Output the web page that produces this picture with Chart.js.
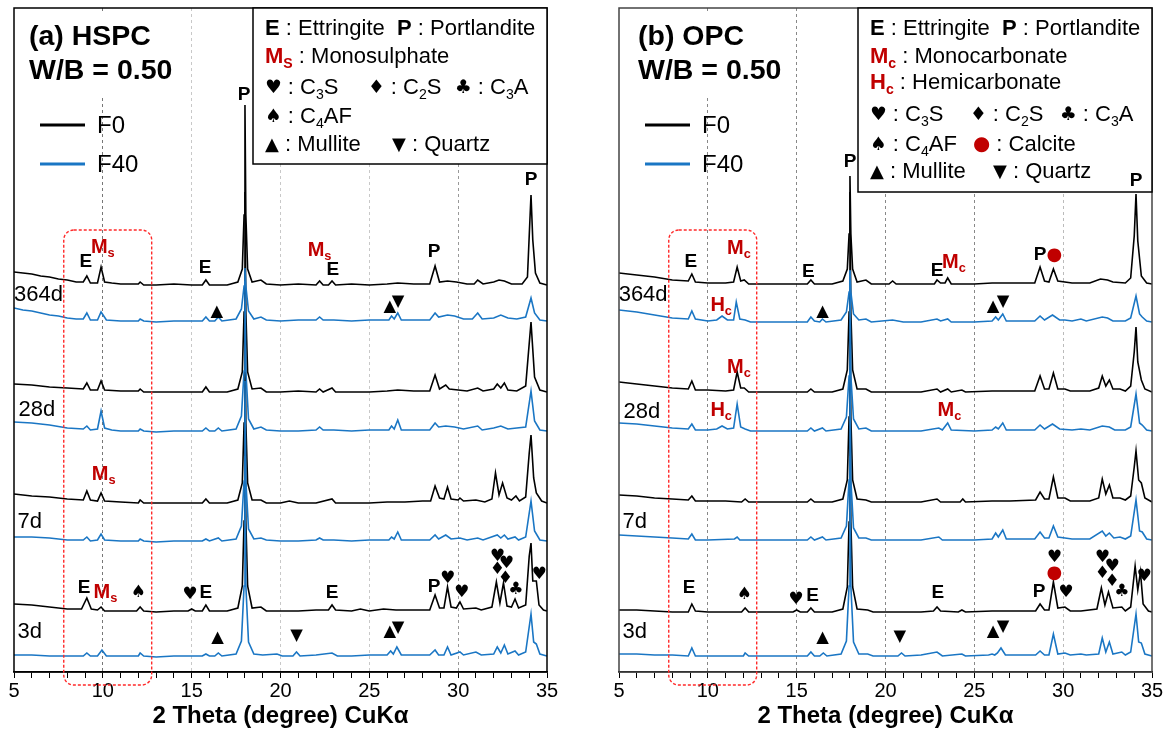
<!DOCTYPE html>
<html>
<head>
<meta charset="utf-8">
<script src="https://cdn.jsdelivr.net/npm/chart.js@4.4.0/dist/chart.umd.min.js"></script>
<style>
  html, body { margin: 0; padding: 0; background: #fff; }
  #wrap { position: relative; width: 1171px; height: 733px; }
  .panel { position: absolute; top: 0; height: 733px; }
</style>
</head>
<body>
<div id="wrap">
  <div class="panel" style="left:0;width:585px"><canvas id="chartA"></canvas></div>
  <div class="panel" style="left:585px;width:586px"><canvas id="chartB"></canvas></div>
</div>
<script>
// XRD-patronen, 2 theta 5..35, gestapeld per ouderdom (F0 zwart, F40 blauw)
const AGES = ['364d', '28d', '7d', '3d'];
const MIXES = ['F0', 'F40'];
const X_TICKS_MAJOR = [5, 10, 15, 20, 25, 30, 35];
const GRID_DEG = [10, 15, 20, 25, 30];

// ---- HSPC: intensiteit boven de eigen basislijn van elk patroon ----
const hspc364F0 = [[5,13],[5.5,12],[6,11],[6.5,9],[7,8],[7.5,6],[8,5],[8.5,3],[8.9,3],[9.1,9],[9.3,2],[9.7,2],[9.9,18],[10.1,3],[10.5,2],[11,1],[12,1],[12.1,3],[12.3,0],[13,0],[14,1],[15,0],[15.6,0],[15.8,5],[16,0],[17,0],[17.6,3],[17.85,16],[17.95,70],[18,180],[18.05,70],[18.15,16],[18.4,3],[18.9,5],[19.2,1],[20,0],[21,1],[22,0],[22.2,4],[22.4,0],[22.7,0],[22.9,4],[23.1,0],[24,1],[25,0],[26,1],[26.6,2],[27.5,1],[28.4,1],[28.7,19],[28.95,3],[29.4,4],[29.9,3],[30.5,1],[30.9,1],[31.1,5],[31.4,1],[32,3],[32.3,5],[32.6,4],[33,1],[33.6,1],[33.9,8],[34.05,70],[34.1,90],[34.2,45],[34.35,12],[34.6,2],[35,0]];
const hspc364F40 = [[5,13],[5.5,11],[6,10],[6.5,8],[7,6],[7.5,5],[8,3],[8.5,2],[8.9,2],[9.1,8],[9.3,1],[9.7,1],[9.9,9],[10.2,1],[11,0],[12,0],[12.1,2],[12.3,0],[13,-1],[14,0],[15,0],[15.6,0],[15.8,4],[16,0],[16.3,0],[16.5,4],[16.7,0],[17.5,2],[17.8,12],[17.95,35],[18,53],[18.05,35],[18.2,10],[18.5,2],[18.9,4],[19.2,1],[20,0],[21,1],[22,1],[22.2,4],[22.4,1],[23,1],[24,0],[25,1],[26.1,1],[26.25,5],[26.4,2],[26.6,8],[26.8,1],[27.5,1],[28.4,1],[28.7,8],[28.9,4],[29.4,6],[29.8,5],[30.3,2],[30.8,2],[31.1,8],[31.35,2],[32,3],[32.4,6],[32.8,3],[33.3,2],[33.8,4],[34.1,23],[34.3,8],[34.6,1],[35,0]];
const hspc28F0 = [[5,8],[6,7],[7,5],[8,4],[8.9,3],[9.1,9],[9.3,2],[9.7,2],[9.9,11],[10.1,2],[11,1],[12,1],[12.1,3],[12.3,0],[13,0],[14,0],[15.6,0],[15.8,5],[16,0],[17,0],[17.6,3],[17.85,20],[17.95,80],[18,200],[18.05,80],[18.15,20],[18.4,3],[18.9,4],[19.2,0],[20,0],[21,1],[22,0],[22.2,3],[22.4,0],[22.9,4],[23.1,0],[24,0],[25,0],[26,1],[26.6,2],[27.5,1],[28.4,1],[28.7,17],[28.95,3],[29.3,7],[29.5,3],[30,2],[30.5,1],[31.1,4],[31.4,1],[32,3],[32.2,8],[32.4,4],[32.6,9],[32.8,2],[33.3,1],[33.8,6],[34.1,70],[34.3,15],[34.6,2],[35,0]];
const hspc28F40 = [[5,9],[6,8],[7,6],[8,3],[8.9,2],[9.1,5],[9.3,1],[9.7,2],[9.9,20],[10.1,3],[10.5,1],[11,0],[12,0],[12.1,2],[12.3,0],[13,-1],[14,0],[15.6,0],[15.8,3],[16,0],[16.3,0],[16.5,3],[16.7,0],[17.5,2],[17.8,15],[17.95,60],[18,150],[18.05,60],[18.2,12],[18.5,2],[18.9,4],[19.2,1],[20,0],[21,0],[22,1],[22.2,4],[22.4,1],[23,1],[24,0],[25,1],[26.1,1],[26.25,5],[26.4,2],[26.6,11],[26.8,1],[27.5,1],[28.4,1],[28.7,8],[28.9,4],[29.3,5],[29.8,4],[30.3,2],[31.1,5],[31.35,1],[32,3],[32.4,5],[32.8,2],[33.3,3],[33.8,4],[34.1,40],[34.3,10],[34.6,1],[35,0]];
const hspc7F0 = [[5,9],[6,7],[7,6],[8,4],[8.9,3],[9.1,12],[9.3,3],[9.7,2],[9.9,10],[10.1,2],[11,1],[12,0],[12.1,3],[12.3,0],[13,0],[14,0],[15.6,0],[15.8,4],[16,0],[17,0],[17.6,3],[17.85,20],[17.95,80],[18,220],[18.05,80],[18.15,20],[18.4,3],[18.9,3],[19.2,0],[20,0],[20.5,2],[21,0],[22,0],[22.9,4],[23.1,0],[24,0],[25,0],[26,1],[27,1],[28,2],[28.45,2],[28.7,17],[28.95,5],[29.2,4],[29.4,16],[29.6,4],[30,3],[30.1,5],[30.3,2],[31,3],[31.5,1],[31.9,4],[32.1,30],[32.3,8],[32.5,20],[32.75,5],[33,3],[33.25,7],[33.45,2],[33.8,6],[34,50],[34.1,68],[34.25,25],[34.4,10],[34.7,2],[35,0]];
const hspc7F40 = [[5,4],[6,4],[7,3],[8,1],[8.9,1],[9.1,4],[9.3,0],[9.7,1],[9.9,7],[10.1,1],[11,0],[12,0],[12.1,2],[12.3,0],[13,-1],[14,0],[15.6,0],[15.8,2],[16,0],[16.5,3],[16.7,0],[17.5,2],[17.8,15],[17.95,60],[18,160],[18.05,60],[18.2,12],[18.5,2],[18.9,3],[19.2,1],[20,0],[21,0],[22,1],[22.2,3],[22.4,1],[23,1],[24,0],[25,1],[26.1,1],[26.25,4],[26.4,2],[26.6,9],[26.8,1],[27.5,1],[28.4,1],[28.7,6],[28.9,2],[29.3,6],[29.6,2],[30.1,3],[30.5,1],[31.1,3],[31.4,1],[32.2,6],[32.4,3],[32.6,6],[32.8,2],[33.2,4],[33.4,1],[33.8,4],[34.1,40],[34.3,10],[34.6,1],[35,0]];
const hspc3F0 = [[5,7],[6,6],[7,4],[8,2],[8.8,2],[9.1,13],[9.35,2],[9.7,1],[9.9,4],[10.1,0],[11,0],[11.9,0],[12.1,4],[12.3,0],[13,-1],[14,0],[14.8,0],[15,2],[15.2,0],[15.6,0],[15.8,6],[16,0],[17,0],[17.6,3],[17.85,25],[17.95,90],[18,230],[18.05,90],[18.15,25],[18.4,3],[18.9,4],[19.2,0],[20,0],[21,0],[22,1],[22.7,1],[22.9,6],[23.1,1],[24,0],[24.5,2],[25,0],[25.8,2],[26.5,1],[27.5,1],[28.4,1],[28.7,16],[28.95,3],[29.2,3],[29.4,24],[29.6,4],[29.9,3],[30.1,9],[30.3,2],[31,3],[31.3,1],[31.9,4],[32.15,29],[32.35,8],[32.55,28],[32.75,5],[33,4],[33.2,12],[33.4,3],[33.8,6],[34,55],[34.1,68],[34.2,30],[34.4,30],[34.55,6],[34.8,1],[35,0]];
const hspc3F40 = [[5,1],[6,1],[7,0],[8,0],[8.9,0],[9.1,3],[9.3,0],[9.7,0],[9.95,6],[10.2,0],[11,0],[12,0],[12.1,3],[12.3,0],[13,-1],[14,0],[15.6,0],[15.8,2],[16,0],[16.3,0],[16.5,3],[16.7,0],[17.5,2],[17.8,15],[17.95,70],[18,200],[18.05,70],[18.2,14],[18.5,2],[19,1],[19.8,2],[20.1,0],[20.7,0],[20.9,4],[21.1,0],[22,1],[22.9,3],[23.2,0],[24,0],[25,1],[26,1],[26.2,5],[26.35,2],[26.55,9],[26.8,1],[27.5,1],[28.4,1],[28.7,6],[28.9,1],[29.2,1],[29.4,9],[29.6,1],[30.1,4],[30.3,1],[31,4],[31.3,1],[32,2],[32.2,9],[32.4,3],[32.6,11],[32.8,2],[33.2,5],[33.4,1],[33.8,4],[34.1,42],[34.25,14],[34.4,12],[34.6,2],[35,0]];
const hspcOffsets = [387, 351, 280, 241, 169, 131, 61, 16];

// ---- OPC ----
const opc364F0 = [[5,11],[6,9],[7,7],[8,4],[8.9,3],[9.1,10],[9.3,2],[10,1],[11,1],[11.45,2],[11.65,17],[11.85,3],[12.05,4],[12.3,0],[13,0],[14,0],[15.6,0],[15.8,4],[16,0],[17,0],[17.6,3],[17.85,15],[17.95,50],[18,108],[18.05,50],[18.15,15],[18.4,2],[18.9,4],[19.2,0],[20.2,0],[20.4,3],[20.6,0],[22,0],[22.75,0],[22.9,4],[23.1,1],[23.35,1],[23.5,6],[23.7,0],[25,0],[26,1],[27,1],[28.4,1],[28.7,17],[28.95,3],[29.2,2],[29.45,15],[29.7,3],[30.5,1],[31.5,1],[32.1,5],[32.5,4],[32.8,2],[33.5,1],[33.8,6],[34,48],[34.1,90],[34.2,43],[34.4,8],[34.7,1],[35,0]];
const opc364F40 = [[5,12],[6,10],[7,7],[8,4],[8.9,3],[9.1,11],[9.3,3],[10,1],[10.5,2],[10.8,6],[11.1,2],[11.45,2],[11.6,20],[11.8,3],[12.1,2],[12.4,0],[13,0],[14,0],[15.6,0],[15.8,5],[16,1],[16.3,0],[16.45,3],[16.65,0],[17.5,2],[17.8,10],[17.95,30],[18,52],[18.05,30],[18.2,8],[18.5,2],[18.9,3],[19.2,0],[20.4,2],[21,0],[22,0],[22.9,3],[23.1,1],[23.5,3],[23.7,0],[25,0],[26,1],[26.2,5],[26.35,2],[26.6,8],[26.8,1],[27.5,1],[28.4,1],[28.7,6],[28.95,2],[29.4,7],[29.8,2],[30.1,2],[30.5,1],[31,3],[31.3,1],[32.2,5],[32.5,4],[32.8,1],[33.5,1],[33.8,4],[34.1,26],[34.3,8],[34.45,5],[34.7,1],[35,0]];
const opc28F0 = [[5,10],[6,8],[7,6],[8,4],[8.9,3],[9.1,11],[9.3,2],[10,2],[11,1],[11.45,2],[11.65,20],[11.85,4],[12.05,4],[12.3,0],[13,0],[14,0],[15.6,0],[15.8,3],[16,0],[17,0],[17.6,3],[17.85,22],[17.95,80],[18,200],[18.05,80],[18.15,22],[18.4,3],[18.9,3],[19.2,0],[21,0],[22,0],[22.9,3],[23.1,0],[23.5,3],[23.7,0],[24.3,2],[24.5,0],[26,1],[27,1],[28.4,1],[28.7,16],[28.95,3],[29.2,3],[29.45,19],[29.7,3],[30.1,3],[30.4,1],[31.5,1],[32,4],[32.2,16],[32.4,6],[32.6,12],[32.8,3],[33.2,3],[33.5,1],[33.8,6],[34,40],[34.1,65],[34.2,30],[34.4,12],[34.6,3],[35,0]];
const opc28F40 = [[5,8],[6,7],[7,5],[8,3],[8.9,2],[9.1,7],[9.3,1],[10,1],[10.5,2],[10.8,5],[11.1,2],[11.45,3],[11.65,27],[11.85,4],[12.1,2],[12.4,0],[13,0],[14,0],[15.6,0],[15.8,3],[16,0],[16.45,3],[16.65,0],[17.5,2],[17.8,14],[17.95,55],[18,160],[18.05,55],[18.2,12],[18.5,2],[18.9,3],[19.2,0],[21,0],[22,0],[23,3],[23.2,1],[23.5,8],[23.7,1],[25,0],[26,1],[26.2,4],[26.35,2],[26.6,8],[26.8,1],[27.5,1],[28.4,1],[28.7,6],[28.95,2],[29.4,7],[29.8,2],[30.5,1],[31,2],[31.5,1],[32.2,5],[32.6,4],[32.9,1],[33.5,1],[33.8,4],[34.1,37],[34.3,8],[34.45,6],[34.7,1],[35,0]];
const opc7F0 = [[5,7],[6,6],[7,4],[8,3],[8.9,2],[9.1,6],[9.3,1],[10,1],[11,1],[11.9,0],[12.1,3],[12.3,0],[13,0],[14,0],[15.6,0],[15.8,3],[16,0],[17,0],[17.6,3],[17.85,22],[17.95,85],[18,210],[18.05,85],[18.15,22],[18.4,3],[18.9,2],[19.2,0],[21,0],[22,0],[22.9,3],[23.1,0],[24.2,0],[24.35,3],[24.5,0],[26,1],[27,1],[28.45,2],[28.7,10],[28.95,3],[29.2,3],[29.45,25],[29.7,4],[30.1,4],[30.4,1],[31.5,1],[32,4],[32.2,23],[32.4,8],[32.6,17],[32.8,4],[33.2,4],[33.5,2],[33.8,6],[34,35],[34.1,51],[34.25,22],[34.4,19],[34.6,4],[35,0]];
const opc7F40 = [[5,5],[6,4],[7,3],[8,2],[8.9,1],[9.1,6],[9.3,0],[10,0],[11.5,1],[11.65,3],[11.8,0],[13,0],[14,0],[15.6,0],[15.8,3],[16,0],[16.45,3],[16.65,0],[17.5,2],[17.8,14],[17.95,60],[18,170],[18.05,60],[18.2,12],[18.5,2],[18.9,2],[19.2,0],[21,0],[22,0],[23,3],[23.2,0],[25,0],[26,1],[26.2,7],[26.35,3],[26.6,10],[26.8,1],[27.5,1],[28.4,1],[28.7,8],[28.95,2],[29.2,2],[29.45,14],[29.7,3],[30.1,2],[30.5,1],[31.5,1],[32.2,9],[32.4,4],[32.6,7],[32.85,2],[33.2,3],[33.5,1],[33.8,4],[34.1,40],[34.3,9],[34.45,8],[34.7,1],[35,0]];
const opc3F0 = [[5,2],[6,2],[7,1],[8,0],[8.9,0],[9.1,8],[9.3,1],[10,0],[11,0],[11.9,0],[12.1,4],[12.3,0],[13,0],[14,0],[14.8,0],[15,2],[15.2,0],[15.6,0],[15.8,4],[16,0],[17,0],[17.6,3],[17.85,25],[17.95,90],[18,230],[18.05,90],[18.15,25],[18.4,3],[19,2],[19.3,0],[21,0],[22,0],[22.7,1],[22.9,5],[23.1,1],[24.1,0],[24.3,2],[24.5,0],[26,1],[27,1],[28.45,1],[28.7,8],[28.95,2],[29.2,2],[29.45,30],[29.7,4],[30.1,5],[30.4,1],[31,1],[31.9,3],[32.15,24],[32.35,7],[32.55,20],[32.8,4],[33.3,5],[33.5,1],[33.8,5],[34.05,46],[34.2,22],[34.35,40],[34.5,8],[34.8,1],[35,0]];
const opc3F40 = [[5,2],[6,2],[7,1],[8,1],[8.9,0],[9.1,8],[9.3,0],[10,0],[11,0],[12,0],[12.1,3],[12.3,0],[13,0],[14,0],[15.6,0],[15.8,4],[16,0],[16.3,0],[16.5,3],[16.7,0],[17.5,2],[17.8,15],[17.95,70],[18,200],[18.05,70],[18.2,14],[18.5,2],[19,2],[19.3,0],[20.7,0],[20.9,3],[21.1,0],[22,1],[22.9,4],[23.2,0],[24.3,2],[24.5,0],[25.8,1],[26,2],[26.15,1],[26.3,3],[26.5,8],[26.75,1],[27.5,1],[28.45,1],[28.7,5],[28.95,1],[29.2,1],[29.45,22],[29.7,2],[30.1,3],[30.4,1],[31,2],[31.3,1],[32,2],[32.2,18],[32.4,4],[32.6,14],[32.8,2],[33.3,4],[33.5,1],[33.8,4],[34.1,42],[34.25,14],[34.4,13],[34.6,2],[35,0]];
const opcOffsets = [388, 350, 280, 241, 170, 132, 60, 16];

// ---- piekmarkeringen [2theta, hoogte, merkteken] ----
const hspcMarks = [
  [17.95,577,'P'],[9.05,410,'E'],[10.0,425,'Ms'],[15.75,404,'E'],[22.2,422,'Ms'],[22.95,402,'E'],[28.65,420,'P'],[34.1,492,'P'],
  [16.42,360,'up'],[26.15,365,'up'],[26.62,370,'down'],
  [10.05,198,'Ms'],
  [8.95,84,'E'],[10.15,80,'Ms'],[12.0,79,'spade'],[14.9,77,'heart'],[15.8,79,'E'],[22.9,79,'E'],[28.65,85,'P'],[29.4,93,'heart'],[30.2,79,'heart'],
  [32.2,115,'heart'],[32.72,108,'heart'],[32.2,102,'diam'],[32.65,93,'diam'],[33.25,82,'club'],[34.55,97,'heart'],
  [16.45,34,'up'],[20.9,36,'down'],[26.15,40,'up'],[26.62,44,'down']
];
const opcMarks = [
  [18.0,510,'P'],[9.05,410,'E'],[11.75,424,'Mc'],[15.65,400,'E'],[22.9,401,'E'],[23.85,410,'Mc'],[28.7,417,'P'],[29.5,417,'calcite'],[34.1,491,'P'],
  [10.75,367,'Hc'],[16.45,360,'up'],[26.05,365,'up'],[26.62,370,'down'],
  [11.75,305,'Mc'],[10.75,262,'Hc'],[23.6,262,'Mc'],
  [8.95,84,'E'],[12.05,77,'spade'],[14.95,72,'heart'],[15.9,76,'E'],[22.95,79,'E'],[28.65,80,'P'],[29.5,99,'calcite'],[29.5,114,'heart'],[30.15,79,'heart'],
  [32.2,114,'heart'],[32.75,105,'heart'],[32.2,98,'diam'],[32.75,90,'diam'],[33.3,80,'club'],[34.55,95,'heart'],
  [16.45,34,'up'],[20.8,35,'down'],[26.05,40,'up'],[26.62,45,'down']
];
const hspcAgeLabels = [[5.0,377],[5.25,262],[5.2,150],[5.2,40]];
const opcAgeLabels = [[4.98,377],[5.25,260],[5.2,150],[5.2,40]];

const BLUE = '#1a76c4';
const RED = '#c00000';
const FONT = '"Liberation Sans", Arial, sans-serif';
const SYMFONT = '"DejaVu Sans", sans-serif';

const MARK_STYLE = {
  E: { segs: [['E', 'b']], size: 19 },
  P: { segs: [['P', 'b']], size: 19 },
  Ms: { segs: [['M', 'r'], ['s', 'rs']], size: 20 },
  Mc: { segs: [['M', 'r'], ['c', 'rs']], size: 20 },
  Hc: { segs: [['H', 'r'], ['c', 'rs']], size: 20 },
  heart: { segs: [['♥', 'y']], size: 20 },
  diam: { segs: [['♦', 'y']], size: 20 },
  club: { segs: [['♣', 'y']], size: 20 },
  spade: { segs: [['♠', 'y']], size: 20 },
  up: { segs: [['▲', 't']], size: 20 },
  down: { segs: [['▼', 't']], size: 20 },
  calcite: { segs: [['●', 'c']], size: 20 }
};

// Sleutelbox: [y vanaf boven, x vanaf links, segmenten]
const hspcKey = [
  [21, 12, [['E', 'b'], [' : Ettringite  '], ['P', 'b'], [' : Portlandite']]],
  [49, 12, [['M', 'r'], ['S', 'rs'], [' : Monosulphate']]],
  [80, 12, [['♥', 'y'], [' : C'], ['3', 's'], ['S']]],
  [80, 115, [['♦', 'y'], [' : C'], ['2', 's'], ['S']]],
  [80, 202, [['♣', 'y'], [' : C'], ['3', 's'], ['A']]],
  [109, 12, [['♠', 'y'], [' : C'], ['4', 's'], ['AF']]],
  [137, 12, [['▲', 't'], [' : Mullite']]],
  [137, 139, [['▼', 't'], [' : Quartz']]]
];
const opcKey = [
  [21, 12, [['E', 'b'], [' : Ettringite  '], ['P', 'b'], [' : Portlandite']]],
  [49, 12, [['M', 'r'], ['c', 'rs'], [' : Monocarbonate']]],
  [75, 12, [['H', 'r'], ['c', 'rs'], [' : Hemicarbonate']]],
  [107, 12, [['♥', 'y'], [' : C'], ['3', 's'], ['S']]],
  [107, 112, [['♦', 'y'], [' : C'], ['2', 's'], ['S']]],
  [107, 202, [['♣', 'y'], [' : C'], ['3', 's'], ['A']]],
  [137, 12, [['♠', 'y'], [' : C'], ['4', 's'], ['AF']]],
  [137, 115, [['●', 'c'], [' : Calcite']]],
  [164, 12, [['▲', 't'], [' : Mullite']]],
  [164, 135, [['▼', 't'], [' : Quartz']]]
];

function drawRich(ctx, x, y, segs, size, align) {
  const parts = segs.map(([t, st = '']) => {
    const sub = st.includes('s');
    const sym = st === 'y' || st === 't' || st === 'c';
    let fs = sub ? size * 0.64 : size;
    if (st === 'y') fs = size * 0.85;
    if (st === 't') fs = size * 0.82;
    if (st === 'c') fs = size * 0.9;
    const bold = st.includes('b') || st.includes('r');
    const font = (bold ? 'bold ' : '') + fs + 'px ' + (sym ? SYMFONT : FONT);
    ctx.font = font;
    return { t, font, w: ctx.measureText(t).width, dy: sub ? size * 0.32 : 0,
             color: (st.includes('r') || st === 'c') ? RED : '#000' };
  });
  const total = parts.reduce((a, p) => a + p.w, 0);
  let cx = align === 'center' ? x - total / 2 : x;
  ctx.textAlign = 'left';
  ctx.textBaseline = 'middle';
  for (const p of parts) {
    ctx.font = p.font;
    ctx.fillStyle = p.color;
    ctx.fillText(p.t, cx, y + p.dy);
    cx += p.w;
  }
}

function decorPlugin(cfg) {
  return {
    id: 'decor',
    afterDraw(chart) {
      const { ctx, chartArea: a, scales: { x, y } } = chart;
      ctx.save();
      // kader
      ctx.strokeStyle = cfg.frameColor;
      ctx.lineWidth = 1.5;
      ctx.strokeRect(a.left, a.top, a.right - a.left, a.bottom - a.top);

      // titel
      ctx.fillStyle = '#fff';
      ctx.fillRect(a.left + 8, a.top + 6, 164, 84);
      ctx.fillStyle = '#000';
      ctx.font = 'bold 28.5px ' + FONT;
      ctx.textAlign = 'left';
      ctx.textBaseline = 'middle';
      ctx.fillText(cfg.title, a.left + cfg.titleDx, 37);
      ctx.fillText('W/B = 0.50', a.left + cfg.titleDx, 71);

      // legenda F0 / F40
      [['#000', 125], [BLUE, 164]].forEach(([c, ly], i) => {
        ctx.strokeStyle = c;
        ctx.lineWidth = 3;
        ctx.beginPath();
        ctx.moveTo(a.left + 26, ly);
        ctx.lineTo(a.left + 71, ly);
        ctx.stroke();
        ctx.fillStyle = '#000';
        ctx.font = '24px ' + FONT;
        ctx.fillText(MIXES[i], a.left + 83, ly + 1);
      });

      // sleutelbox
      const bx = a.right - 294, by = a.top;
      ctx.fillStyle = '#fff';
      ctx.fillRect(bx, by, 294, cfg.keyHeight);
      ctx.strokeStyle = '#000';
      ctx.lineWidth = 1.5;
      ctx.strokeRect(bx, by, 294, cfg.keyHeight);
      cfg.key.forEach(([ky, kx, segs]) => drawRich(ctx, bx + kx, by + ky, segs, 22, 'left'));

      // piekmarkeringen en ouderdommen
      cfg.marks.forEach(([dx, dy, key]) => {
        const st = MARK_STYLE[key];
        drawRich(ctx, x.getPixelForValue(dx), y.getPixelForValue(dy), st.segs, st.size, 'center');
      });
      cfg.ages.forEach(([dx, dy], i) => {
        ctx.font = '22px ' + FONT;
        ctx.fillStyle = '#000';
        ctx.textAlign = 'left';
        ctx.textBaseline = 'middle';
        ctx.fillText(AGES[i], x.getPixelForValue(dx), y.getPixelForValue(dy));
      });

      // rode gestippelde kader rond 8-12.7 graden
      const l = x.getPixelForValue(7.8), r = x.getPixelForValue(12.75);
      const t = y.getPixelForValue(442), b = a.bottom + 13, rad = 10;
      ctx.strokeStyle = '#ff2a2a';
      ctx.lineWidth = 1.4;
      ctx.setLineDash([3, 2]);
      ctx.beginPath();
      ctx.moveTo(l + rad, t);
      ctx.arcTo(r, t, r, b, rad);
      ctx.arcTo(r, b, l, b, rad);
      ctx.arcTo(l, b, l, t, rad);
      ctx.arcTo(l, t, r, t, rad);
      ctx.closePath();
      ctx.stroke();
      ctx.restore();
    }
  };
}

function showPanel(canvasId, cfg) {
  return new Chart(document.getElementById(canvasId), {
    type: 'line',
    data: {
      datasets: cfg.traces.map((rel, i) => ({
        label: AGES[i >> 1] + ' ' + MIXES[i % 2],
        data: rel.map(([px, py]) => ({ x: px, y: py + cfg.offsets[i] })),
        borderColor: i % 2 ? BLUE : '#000',
        borderWidth: 1.6,
        pointRadius: 0,
        tension: 0,
        order: i % 2 ? 0 : 1
      }))
    },
    options: {
      responsive: true,
      maintainAspectRatio: false,
      animation: false,
      devicePixelRatio: 1,
      layout: { padding: cfg.padding },
      plugins: { legend: { display: false }, tooltip: { enabled: false } },
      scales: {
        x: {
          type: 'linear',
          min: 5,
          max: 35,
          afterFit: s => { s.height = 61; },
          ticks: {
            stepSize: 1,
            autoSkip: false,
            maxRotation: 0,
            padding: 1,
            color: '#000',
            font: { size: 20, family: FONT },
            callback: v => X_TICKS_MAJOR.includes(v) ? String(v) : ''
          },
          grid: {
            drawOnChartArea: true,
            color: c => (c.tick && GRID_DEG.includes(c.tick.value)) ? cfg.gridColors[GRID_DEG.indexOf(c.tick.value)] : 'rgba(0,0,0,0)',
            tickColor: '#000',
            tickLength: 6,
            lineWidth: 1
          },
          border: { display: true, color: '#000', width: 1.5, dash: [3, 3] },
          title: {
            display: true,
            text: '2 Theta (degree) CuKα',
            color: '#000',
            font: { size: 24, weight: 'bold', family: FONT },
            padding: { top: 0, bottom: 2 }
          }
        },
        y: { display: false, min: 0, max: 664 }
      }
    },
    plugins: [decorPlugin(cfg)]
  });
}

showPanel('chartA', {
  traces: [hspc364F0, hspc364F40, hspc28F0, hspc28F40, hspc7F0, hspc7F40, hspc3F0, hspc3F40],
  offsets: hspcOffsets,
  marks: hspcMarks,
  ages: hspcAgeLabels,
  key: hspcKey,
  keyHeight: 156,
  title: '(a) HSPC',
  titleDx: 15,
  frameColor: '#000',
  gridColors: ['#777', '#c8c8c8', '#c8c8c8', '#c8c8c8', '#999'],
  padding: { left: 14, right: 38, top: 8, bottom: 0 }
});

showPanel('chartB', {
  traces: [opc364F0, opc364F40, opc28F0, opc28F40, opc7F0, opc7F40, opc3F0, opc3F40],
  offsets: opcOffsets,
  marks: opcMarks,
  ages: opcAgeLabels,
  key: opcKey,
  keyHeight: 184,
  title: '(b) OPC',
  titleDx: 19,
  frameColor: '#444',
  gridColors: ['#888', '#888', '#888', '#888', '#bbb'],
  padding: { left: 34, right: 19, top: 8, bottom: 0 }
});
</script>
</body>
</html>
